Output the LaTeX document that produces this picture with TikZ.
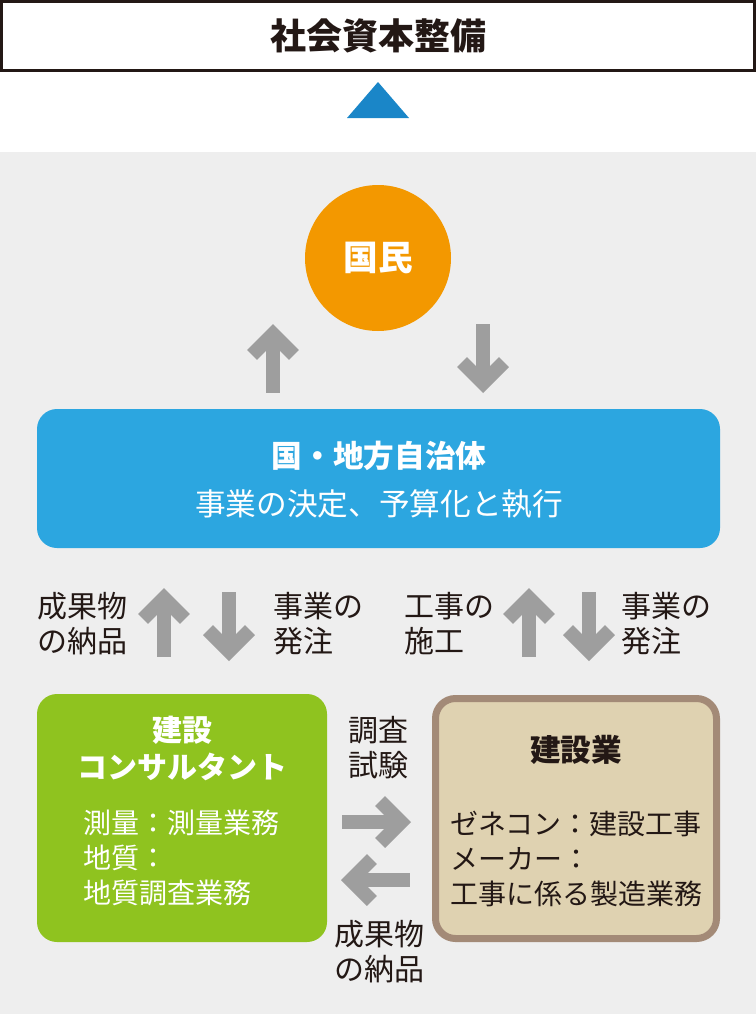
\documentclass[tikz,border=0pt]{standalone}
\usepackage{fontspec}
\setmainfont{Noto Sans CJK JP}
\usepackage{xcolor}
\definecolor{inkbrown}{HTML}{231815}
\definecolor{bggray}{HTML}{EEEEEE}
\definecolor{arrowgray}{HTML}{9E9E9E}
\definecolor{triblue}{HTML}{1A86C8}
\definecolor{peopleorange}{HTML}{F39800}
\definecolor{govblue}{HTML}{2CA6E0}
\definecolor{consultgreen}{HTML}{8FC31F}
\definecolor{builderbeige}{HTML}{DFD2B1}
\definecolor{builderedge}{HTML}{A38A77}

\tikzset{
  pics/fatarrow/.style={code={
    \draw[arrowgray, line width=10.5pt] (0,9.9) -- (0,69);
    \draw[arrowgray, line width=10.5pt, line join=miter] (-21,30.9) -- (0,9.9) -- (21,30.9);
  }},
}

\begin{document}
\begin{tikzpicture}[x=0.75pt, y=-0.75pt,
    darklabel/.style={text=inkbrown, inner sep=0pt, font=\fontsize{22.5}{26.25}\selectfont},
    whitebold/.style={text=white, inner sep=0pt, font=\bfseries\fontsize{22.5}{27.75}\selectfont},
    boxbody/.style={inner sep=0pt, align=left, anchor=west, font=\fontsize{21}{26.25}\selectfont},
    roundbox/.style={rounded corners=15pt, inner sep=0pt}]
      \useasboundingbox (0,0) rectangle (756,1014);
      % \draw[dotted] (378,0) -- (378,1014);

      \fill[bggray] (0,152) rectangle (756,1014);

      \node[draw=inkbrown, line width=2.25pt, minimum width=564.75pt, minimum height=51.75pt,
            inner sep=0pt, text=inkbrown, font=\bfseries\fontsize{27}{32}\selectfont] (title) at (378,36) {社会資本整備};
      \fill[triblue] (347,118) -- (378,82) -- (409,118) -- cycle;

      \node[circle, fill=peopleorange, minimum size=109.5pt, inner sep=0pt, text=white,
            font=\bfseries\fontsize{26}{30}\selectfont] (people) at (378,258) {国民};

      \pic at (273,324) {fatarrow};
      \pic[rotate=180] at (483,393) {fatarrow};

      \node[roundbox, fill=govblue, minimum width=512.25pt, minimum height=104.25pt] (gov) at (378.5,478.5) {};
      \node[whitebold, font=\bfseries\fontsize{23}{28}\selectfont] (govname) at (379,456) {国・地方自治体};
      \node[whitebold, font=\fontsize{23}{28}\selectfont] (govrole) at (379,504) {事業の決定、予算化と執行};

      \node[darklabel, align=left, anchor=west] (deliverup) at (37,624) {成果物\\の納品};
      \pic at (164,588) {fatarrow};
      \pic[rotate=180] at (229,661) {fatarrow};
      \node[darklabel, align=left, anchor=west] (orderleft) at (273,624) {事業の\\発注};

      \node[darklabel, align=left, anchor=west] (construct) at (404,624) {工事の\\施工};
      \pic at (529,588) {fatarrow};
      \pic[rotate=180] at (589,661) {fatarrow};
      \node[darklabel, align=left, anchor=west] (orderright) at (621,624) {事業の\\発注};

      \node[roundbox, fill=consultgreen, minimum width=217.5pt, minimum height=186pt] (consult) at (182,818) {};
      \node[whitebold, align=center] (consultname) at (182,748) {建設\\コンサルタント};
      \node[boxbody, text=white] (consultwork) at (83,858) {測量：測量業務\\地質：\\地質調査業務};

      \node[roundbox, fill=builderbeige, draw=builderedge, line width=5.25pt,
            minimum width=210.75pt, minimum height=180pt] (builder) at (576,818.5) {};
      \node[darklabel, font=\bfseries\fontsize{23}{28}\selectfont] (buildername) at (576,750) {建設業};
      \node[boxbody, text=inkbrown] (builderwork) at (450,859) {ゼネコン：建設工事\\メーカー：\\工事に係る製造業務};

      \node[darklabel, align=center] (survey) at (378,748) {調査\\試験};
      \pic[rotate=-90] at (411,822) {fatarrow};
      \pic[rotate=90] at (341,880) {fatarrow};
      \node[darklabel, align=center] (deliverdown) at (379,952) {成果物\\の納品};

      \end{tikzpicture}
\end{document}
